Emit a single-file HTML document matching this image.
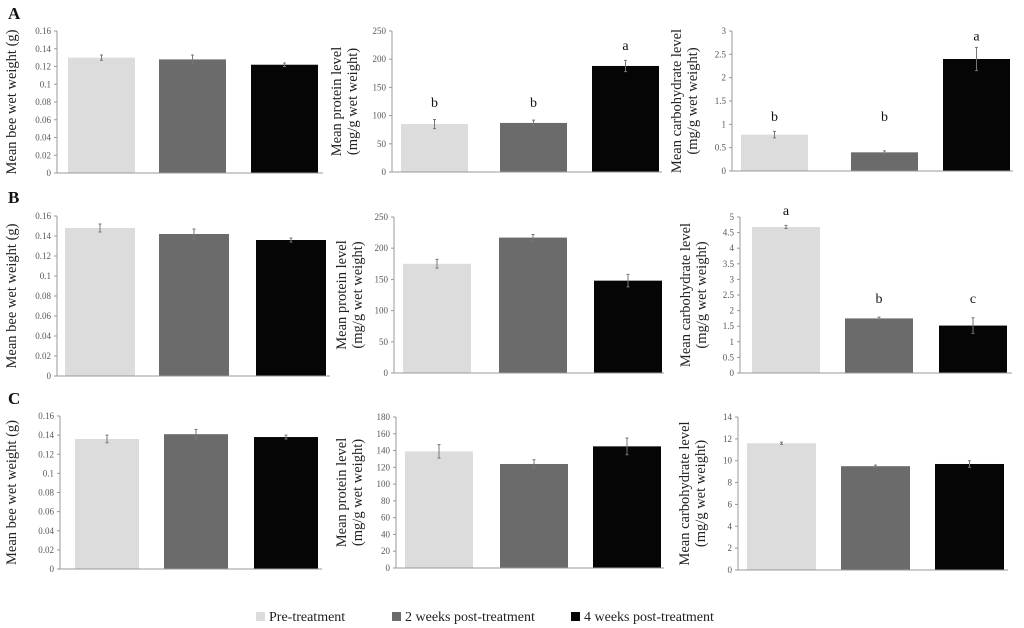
<!DOCTYPE html>
<html><head><meta charset="utf-8"><style>
body{margin:0;background:#fff}
svg{display:block;font-family:"Liberation Serif",serif}
</style></head><body>
<svg id="c" width="1024" height="628" xmlns="http://www.w3.org/2000/svg"></svg>
<script>
const groups=["Pre-treatment","2 weeks post-treatment","4 weeks post-treatment"];
const colors=["#dcdcdc","#6b6b6b","#050505"];
const a1Vals=[0.130,0.128,0.122], a1Err=[0.003,0.005,0.002];
const a2Vals=[85,87,188], a2Err=[8,5,10], a2Letters=["b","b","a"], a2LetterAt=[115,115,216];
const a3Vals=[0.78,0.40,2.40], a3Err=[0.07,0.03,0.25], a3Letters=["b","b","a"], a3LetterAt=[1.07,1.07,2.8];
const b1Vals=[0.148,0.142,0.136], b1Err=[0.004,0.005,0.002];
const b2Vals=[175,217,148], b2Err=[7,5,10];
const b3Vals=[4.68,1.75,1.52], b3Err=[0.05,0.04,0.25], b3Letters=["a","b","c"], b3LetterAt=[5.06,2.25,2.25];
const c1Vals=[0.136,0.141,0.138], c1Err=[0.004,0.005,0.002];
const c2Vals=[139,124,145], c2Err=[8,5,10];
const c3Vals=[11.6,9.5,9.7], c3Err=[0.1,0.1,0.3];
const wTicks=["0","0.02","0.04","0.06","0.08","0.1","0.12","0.14","0.16"];
const pTicks250=["0","50","100","150","200","250"];
const cTicks3=["0","0.5","1","1.5","2","2.5","3"];
const cTicks5=["0","0.5","1","1.5","2","2.5","3","3.5","4","4.5","5"];
const pTicks180=["0","20","40","60","80","100","120","140","160","180"];
const cTicks14=["0","2","4","6","8","10","12","14"];

const svg=document.getElementById('c');
const NS="http://www.w3.org/2000/svg";
function mk(tag,at,parent){const e=document.createElementNS(NS,tag);for(const k in at)e.setAttribute(k,at[k]);(parent||svg).appendChild(e);return e;}

function panel(name,ax,top,zero,xEnd,bars,bw,ticks,vals,errs,letters,letterAt,labelLines,labelX){
  const g=mk('g',{});
  
  
  const max=parseFloat(ticks[ticks.length-1]);
  const y=v=>zero-(v/max)*(zero-top);
  ticks.forEach((t,i)=>{
    const v=parseFloat(t),yy=y(v);
    const tk=mk('line',{x1:ax-3,x2:ax,y1:yy,y2:yy,stroke:'#999','stroke-width':1},g);
    
    
    const tl=mk('text',{x:ax-6,y:yy+3,'text-anchor':'end','font-size':9,fill:'#555'},g);
    tl.textContent=t;
    
    
  });
  vals.forEach((v,i)=>{
    const r=mk('rect',{x:bars[i],y:y(v),width:bw,height:zero-y(v),fill:colors[i]},g);
    
    
    const cx=bars[i]+bw/2,e1=y(v+errs[i]),e2=y(v-errs[i]);
    const eb=mk('path',{d:`M${cx},${e1}V${e2}M${cx-1.5},${e1}H${cx+1.5}M${cx-1.5},${e2}H${cx+1.5}`,stroke:'#777','stroke-width':1,fill:'none'},g);
    
    
    if(letters){
      const lt=mk('text',{x:cx,y:y(letterAt[i]),'text-anchor':'middle','font-size':14,fill:'#111'},g);
      lt.textContent=letters[i];
      
      
    }
  });
  const ya=mk('line',{x1:ax,x2:ax,y1:top,y2:zero,stroke:'#999','stroke-width':1},g);
  
  
  const xa=mk('line',{x1:ax-3,x2:xEnd,y1:zero,y2:zero,stroke:'#999','stroke-width':1},g);
  
  
  const cy=(top+zero)/2;
  labelLines.forEach((ln,i)=>{
    const lx=labelX+i*16;
    const t=mk('text',{x:lx,y:cy,'text-anchor':'middle','font-size':14.5,fill:'#222',transform:`rotate(-90 ${lx} ${cy})`},g);
    t.textContent=ln;
    
    
  });
}
const W=["Mean bee wet weight (g)"], P=["Mean protein level","(mg/g wet weight)"], C=["Mean carbohydrate level","(mg/g wet weight)"];
panel('chart-a-weight',57,31,173,323,[68,159,251],67,wTicks,a1Vals,a1Err,null,null,W,16);
panel('chart-a-protein',392,31,172,662,[401,500,592],67,pTicks250,a2Vals,a2Err,a2Letters,a2LetterAt,P,341);
panel('chart-a-carb',732,31,171,1013,[741,851,943],67,cTicks3,a3Vals,a3Err,a3Letters,a3LetterAt,C,681);
panel('chart-b-weight',57,216,376,330,[65,159,256],70,wTicks,b1Vals,b1Err,null,null,W,16);
panel('chart-b-protein',394,217,373,664,[403,499,594],68,pTicks250,b2Vals,b2Err,null,null,P,346);
panel('chart-b-carb',740,217,373,1012,[752,845,939],68,cTicks5,b3Vals,b3Err,b3Letters,b3LetterAt,C,690);
panel('chart-c-weight',60,416,569,322,[75,164,254],64,wTicks,c1Vals,c1Err,null,null,W,16);
panel('chart-c-protein',396,417,568,664,[405,500,593],68,pTicks180,c2Vals,c2Err,null,null,P,346);
panel('chart-c-carb',738,417,570,1008,[747,841,935],69,cTicks14,c3Vals,c3Err,null,null,C,689);

[["A",8,19],["B",8,203],["C",8,404]].forEach(([t,x,yy])=>{
  const e=mk('text',{x:x,y:yy,'font-size':17,'font-weight':'bold',fill:'#111'});
  e.textContent=t;
  
  
});
const legX=[256,392,571];
groups.forEach((gname,i)=>{
  const r=mk('rect',{x:legX[i],y:612,width:9,height:9,fill:colors[i]});
  
  
  const t=mk('text',{x:legX[i]+13,y:621,'font-size':14,fill:'#222'});
  t.textContent=gname;
  
  
});
</script>
</body></html>
